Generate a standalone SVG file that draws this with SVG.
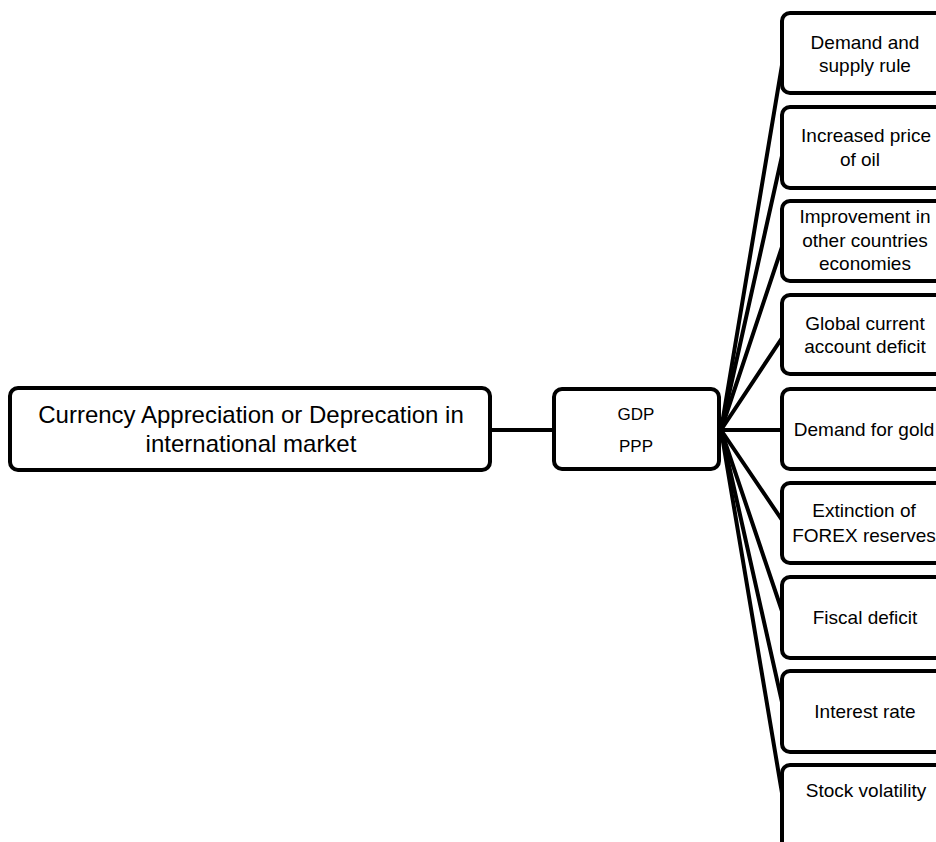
<svg xmlns="http://www.w3.org/2000/svg" width="936" height="842" viewBox="0 0 936 842">
<style>
.box{fill:#fff;stroke:#000;stroke-width:4}
.ln{stroke:#000;stroke-width:4;fill:none;stroke-linecap:round}
text{font-family:"Liberation Sans",Arial,sans-serif;fill:#000;text-anchor:middle}
.r{font-size:19px}
.m{font-size:24px}
.g{font-size:17px}
</style>
<rect width="936" height="842" fill="#fff"/>
<g id="connectors">
<line class="ln" x1="490" y1="430" x2="554" y2="430"/>
<line class="ln" x1="721" y1="430" x2="784" y2="53"/>
<line class="ln" x1="721" y1="430" x2="784" y2="147"/>
<line class="ln" x1="721" y1="430" x2="784" y2="241"/>
<line class="ln" x1="721" y1="430" x2="784" y2="335"/>
<line class="ln" x1="721" y1="430" x2="784" y2="430"/>
<line class="ln" x1="721" y1="430" x2="784" y2="523"/>
<line class="ln" x1="721" y1="430" x2="784" y2="617"/>
<line class="ln" x1="721" y1="430" x2="784" y2="711"/>
<line class="ln" x1="721" y1="430" x2="784" y2="805"/>
</g>
<g id="main">
<rect class="box" x="10" y="388" width="480" height="82" rx="8"/>
<text class="m" x="251" y="423">Currency Appreciation or Deprecation in</text>
<text class="m" x="251" y="452">international market</text>
</g>
<g id="gdp">
<rect class="box" x="554" y="389" width="165" height="80" rx="8"/>
<text class="g" x="636" y="420">GDP</text>
<text class="g" x="636" y="452">PPP</text>
</g>
<g id="n1">
<rect class="box" x="782" y="13" width="170" height="80" rx="8"/>
<text class="r" x="865" y="49">Demand and</text>
<text class="r" x="865" y="72">supply rule</text>
</g>
<g id="n2">
<rect class="box" x="782" y="107" width="170" height="81" rx="8"/>
<text class="r" x="866" y="142">Increased price</text>
<text class="r" x="860" y="166">of oil</text>
</g>
<g id="n3">
<rect class="box" x="782" y="201" width="170" height="80" rx="8"/>
<text class="r" x="865" y="223">Improvement in</text>
<text class="r" x="865" y="247">other countries</text>
<text class="r" x="865" y="270">economies</text>
</g>
<g id="n4">
<rect class="box" x="782" y="295" width="170" height="79" rx="8"/>
<text class="r" x="865" y="330">Global current</text>
<text class="r" x="865" y="353">account deficit</text>
</g>
<g id="n5">
<rect class="box" x="782" y="389" width="170" height="80" rx="8"/>
<text class="r" x="864" y="436">Demand for gold</text>
</g>
<g id="n6">
<rect class="box" x="782" y="483" width="170" height="80" rx="8"/>
<text class="r" x="864" y="517">Extinction of</text>
<text class="r" x="864" y="542">FOREX reserves</text>
</g>
<g id="n7">
<rect class="box" x="782" y="577" width="170" height="81" rx="8"/>
<text class="r" x="865" y="624">Fiscal deficit</text>
</g>
<g id="n8">
<rect class="box" x="782" y="671" width="170" height="81" rx="8"/>
<text class="r" x="865" y="718">Interest rate</text>
</g>
<g id="n9">
<rect class="box" x="782" y="765" width="170" height="110" rx="8"/>
<text class="r" x="866" y="797">Stock volatility</text>
</g>
</svg>
